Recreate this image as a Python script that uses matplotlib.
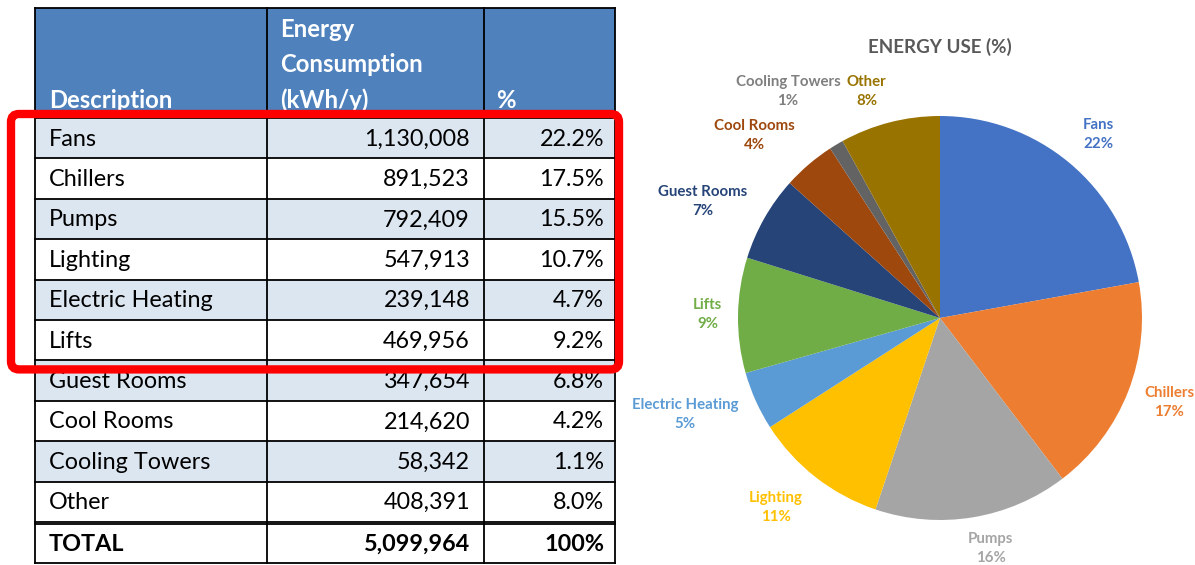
import math
import matplotlib
matplotlib.use("Agg")
import matplotlib.pyplot as plt
from matplotlib.patches import Rectangle, FancyBboxPatch

# ---------------- data ----------------
categories = ["Fans", "Chillers", "Pumps", "Lighting", "Electric Heating", "Lifts",
              "Guest Rooms", "Cool Rooms", "Cooling Towers", "Other"]
consumption = [1130008, 891523, 792409, 547913, 239148, 469956,
               347654, 214620, 58342, 408391]
header_labels = ["Description", "Energy\nConsumption\n(kWh/y)", "%"]
total_label = "TOTAL"
pie_title = "ENERGY USE (%)"

# ---------------- styles ----------------
slice_colors = ["#4472C4", "#ED7D31", "#A5A5A5", "#FFC000", "#5B9BD5", "#70AD47",
                "#264478", "#9E480E", "#636363", "#997300"]
label_colors = ["#4472C4", "#ED7D31", "#A5A5A5", "#FFC000", "#5B9BD5", "#70AD47",
                "#264478", "#9E480E", "#7F7F7F", "#997300"]
label_dist = [1.20, 1.21, 1.17, 1.24, 1.35, 1.15, 1.31, 1.29, 1.35, 1.18]
label_angle_shift = [-1, 1, 3, -3, -3.5, 0, 3.4, 5, 3, 3.5]

FONT = "Lato"
W, H = 1195, 565
fig = plt.figure(figsize=(W / 100, H / 100), dpi=100)
fig.patch.set_facecolor("white")

# ---------------- table (pixel coordinates) ----------------
tax = fig.add_axes([0, 0, 1, 1])
tax.set_xlim(0, W)
tax.set_ylim(H, 0)
tax.axis("off")

col_edges = [35, 267, 484, 615]
header_top, header_bot = 8, 118
row_h = 40.4
total = sum(consumption)
n = len(categories)
BODY_FS = 16.8
HEAD_FS = 17.2

# header
tax.add_patch(Rectangle((col_edges[0], header_top), col_edges[-1] - col_edges[0],
                        header_bot - header_top, facecolor="#4F81BD", edgecolor="none", zorder=1))
tax.text(col_edges[0] + 14, header_bot - 6, header_labels[0], color="white", fontsize=HEAD_FS,
         fontweight="bold", family=FONT, ha="left", va="bottom", zorder=3)
tax.text(col_edges[1] + 13, header_bot - 6, header_labels[1], color="white", fontsize=HEAD_FS,
         fontweight="bold", family=FONT, ha="left", va="bottom", linespacing=1.62, zorder=3)
tax.text(col_edges[2] + 12, header_bot - 6, header_labels[2], color="white", fontsize=HEAD_FS,
         fontweight="bold", family=FONT, ha="left", va="bottom", zorder=3)

# body rows
for i, (cat, val) in enumerate(zip(categories, consumption)):
    y0 = header_bot + i * row_h
    fc = "#DCE6F1" if i % 2 == 0 else "white"
    tax.add_patch(Rectangle((col_edges[0], y0), col_edges[-1] - col_edges[0], row_h,
                            facecolor=fc, edgecolor="none", zorder=1))
    yc = y0 + row_h / 2 + 1
    tax.text(col_edges[0] + 14, yc, cat, fontsize=BODY_FS, family=FONT, ha="left", va="center",
             color="black", zorder=3)
    tax.text(col_edges[2] - 14, yc, f"{val:,}", fontsize=BODY_FS, family=FONT, ha="right",
             va="center", color="black", zorder=3)
    tax.text(col_edges[3] - 11, yc, f"{val / total * 100:.1f}%", fontsize=BODY_FS, family=FONT,
             ha="right", va="center", color="black", zorder=3)
    tax.plot([col_edges[0], col_edges[-1]], [y0 + row_h, y0 + row_h], color="black", lw=1.3, zorder=2)

# total row
ty0 = header_bot + n * row_h + 2
ty1 = 563
tax.plot([col_edges[0], col_edges[-1]], [ty0, ty0], color="black", lw=1.3, zorder=2)
tyc = (ty0 + ty1) / 2 + 1
tax.text(col_edges[0] + 14, tyc, total_label, fontsize=BODY_FS, family=FONT, fontweight="bold",
         ha="left", va="center", zorder=3)
tax.text(col_edges[2] - 14, tyc, f"{total:,}", fontsize=BODY_FS, family=FONT, fontweight="bold",
         ha="right", va="center", zorder=3)
tax.text(col_edges[3] - 11, tyc, "100%", fontsize=BODY_FS, family=FONT, fontweight="bold",
         ha="right", va="center", zorder=3)

# grid lines
for x in col_edges:
    tax.plot([x, x], [header_top, ty1], color="black", lw=1.3, zorder=2)
tax.plot([col_edges[0], col_edges[-1]], [header_top, header_top], color="black", lw=1.3, zorder=2)
tax.plot([col_edges[0], col_edges[-1]], [header_bot, header_bot], color="black", lw=1.3, zorder=2)
tax.plot([col_edges[0], col_edges[-1]], [ty1, ty1], color="black", lw=1.3, zorder=2)

# red highlight box (first six rows)
hl_top = header_bot - 4
hl_bot = header_bot + 6 * row_h + 9
tax.add_patch(FancyBboxPatch((11, hl_top), 619 - 11, hl_bot - hl_top,
                             boxstyle="round,pad=0,rounding_size=8", facecolor="none",
                             edgecolor="#FF0000", lw=6, zorder=5))

# ---------------- pie ----------------
cx, cy, R = 940, 318, 202
pax = fig.add_axes([0, 0, 1, 1])
wedges, _ = pax.pie(consumption, colors=slice_colors, startangle=90, counterclock=False,
                    radius=1, wedgeprops=dict(linewidth=0))
pax.set_xlim(-cx / R, (W - cx) / R)
pax.set_ylim(-(H - cy) / R, cy / R)
pax.axis("off")

for w, cat, val, col, d, sh in zip(wedges, categories, consumption, label_colors,
                                   label_dist, label_angle_shift):
    ang = math.radians((w.theta1 + w.theta2) / 2 + sh)
    pax.text(d * math.cos(ang), d * math.sin(ang), f"{cat}\n{round(val / total * 100)}%",
             color=col, fontsize=10.8, fontweight="bold", family=FONT, ha="center",
             va="center", linespacing=1.45)

pax.text(0, (cy - 47) / R, pie_title, color="#595959", fontsize=13.5, fontweight="bold",
         family=FONT, ha="center", va="center")

fig.savefig("out.png", dpi=100)
